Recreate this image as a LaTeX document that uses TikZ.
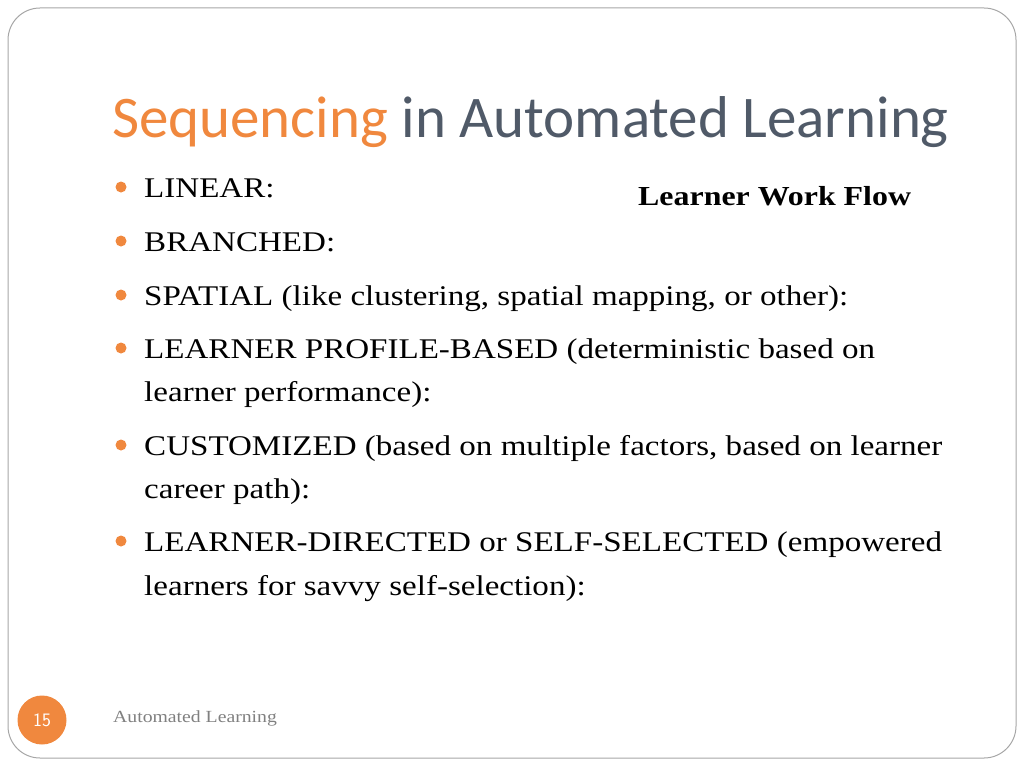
\documentclass[tikz,border=0pt]{standalone}
\usepackage{fontspec}
\setmainfont{Liberation Serif}[FakeStretch=1.16]
\newfontfamily\titlefont{Carlito}
\definecolor{orng}{HTML}{F0883E}
\definecolor{ttl}{HTML}{505A68}
\begin{document}
\begin{tikzpicture}[x=1pt,y=-1pt,
  txt/.style={anchor=base west,inner sep=0pt,font=\fontsize{28.5}{32}\selectfont},
  dot/.style={circle,fill=orng,inner sep=0pt,minimum size=11pt}]
\useasboundingbox (0,0) rectangle (1024,768);
\draw[gray!70,line width=1pt,rounded corners=32pt] (8,8) rectangle (1016,758);
\node[anchor=base west,inner sep=0pt,font=\titlefont\fontsize{59}{64}\selectfont] (title) at (112,137) {\textcolor{orng}{Sequencing} \textcolor{ttl}{in Automated Learning}};
\node[anchor=base west,inner sep=0pt,font=\bfseries\fontsize{27.5}{30}\selectfont] (lwf) at (638,205) {Learner Work Flow};
\foreach \n/\y/\t in {a/197/{LINEAR:},b/251/{BRANCHED:},c/305/{SPATIAL (like clustering, spatial mapping, or other):},d/358/{LEARNER PROFILE-BASED (deterministic based on},f/455/{CUSTOMIZED (based on multiple factors, based on learner},h/551/{LEARNER-DIRECTED or SELF-SELECTED (empowered}}{
  \node[dot] (d\n) at (121,\y-10) {};
  \node[txt] (t\n) at (144,\y) {\t};
}
\node[txt] (te) at (144,401) {learner performance):};
\node[txt] (tg) at (144,498) {career path):};
\node[txt] (ti) at (144,595) {learners for savvy self-selection):};
\node[circle,fill=orng,minimum size=49pt,inner sep=0pt,text=white,font=\sffamily\fontsize{19}{22}\selectfont] (num) at (42,720) {15};
\node[anchor=base west,inner sep=0pt,text=gray,font=\fontsize{17}{20}\selectfont] (foot) at (113,722) {Automated Learning};
\end{tikzpicture}
\end{document}
